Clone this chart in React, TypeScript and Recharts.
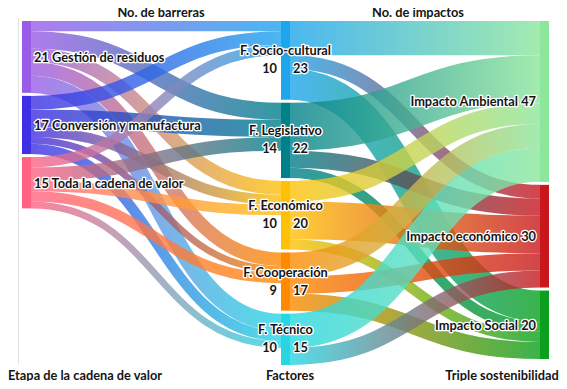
import React from 'react';
import { Sankey } from 'recharts';

// ---- data ----
const stages = ['Gestión de residuos', 'Conversión y manufactura', 'Toda la cadena de valor'];
const factors = ['F. Socio-cultural', 'F. Legislativo', 'F. Económico', 'F. Cooperación', 'F. Técnico'];
const impacts = ['Impacto Ambiental', 'Impacto económico', 'Impacto Social'];

// barriers: rows = stages, cols = factors
const barriersGestion = [3, 5, 4, 4, 5];
const barriersConversion = [4, 5, 3, 2, 3];
const barriersToda = [3, 4, 3, 3, 2];
const barrierRows = [barriersGestion, barriersConversion, barriersToda];

// impacts: rows = factors, cols = impacts
const impactsSocio = [10, 4, 9];
const impactsLegislativo = [14, 5, 3];
const impactsEconomico = [6, 11, 3];
const impactsCooperacion = [7, 5, 5];
const impactsTecnico = [10, 5, 0];
const impactRows = [impactsSocio, impactsLegislativo, impactsEconomico, impactsCooperacion, impactsTecnico];

// ---- styles ----
const stageColors = ['#9a5ce6', '#3f2ee3', '#ff6283'];
const factorColors = ['#1ea5ec', '#00808a', '#ffc107', '#ff8a00', '#26d6e2'];
const impactColors = ['#8ce69c', '#c8171d', '#0aa01e'];

const FONT = 'Lato, "Open Sans", sans-serif';
const FS = 12.8;

const nodeNames = [...stages, ...factors, ...impacts];
const nodeColors = [...stageColors, ...factorColors, ...impactColors];
const nS = stages.length;
const nF = factors.length;

const links: { source: number; target: number; value: number }[] = [];
barrierRows.forEach((row, i) =>
  row.forEach((v, j) => {
    if (v > 0) links.push({ source: i, target: nS + j, value: v });
  })
);
impactRows.forEach((row, j) =>
  row.forEach((v, k) => {
    if (v > 0) links.push({ source: nS + j, target: nS + nF + k, value: v });
  })
);

const factorIn = factors.map((_, j) => barrierRows.reduce((s, r) => s + r[j], 0));
const factorOut = impactRows.map((r) => r.reduce((s, v) => s + v, 0));

const data = { nodes: nodeNames.map((name) => ({ name })), links };

const textStyle: React.CSSProperties = {
  fontFamily: FONT,
  fontWeight: 700,
  fontSize: FS,
};

const Label = (p: { x: number; y: number; anchor: 'start' | 'middle' | 'end'; children: React.ReactNode }) => (
  <text
    x={p.x}
    y={p.y}
    textAnchor={p.anchor}
    dominantBaseline="central"
    fill="#151515"
    stroke="#ffffff"
    strokeWidth={2.6}
    strokeLinejoin="round"
    paintOrder="stroke"
    style={textStyle}
  >
    {p.children}
  </text>
);

const renderNode = (props: any) => {
  const { x, y, width, height, index, payload } = props;
  const idx = typeof index === 'number' ? index : nodeNames.indexOf(payload?.name);
  const color = nodeColors[idx];
  const cy = y + height / 2;
  let label: React.ReactNode = null;
  if (idx < nS) {
    label = (
      <Label x={x + width + 3} y={cy} anchor="start">
        {`${payload.value} ${nodeNames[idx]}`}
      </Label>
    );
  } else if (idx < nS + nF) {
    const j = idx - nS;
    label = (
      <g>
        <Label x={x + width / 2} y={cy - 10} anchor="middle">
          {nodeNames[idx]}
        </Label>
        <Label x={x - 4} y={cy + 8} anchor="end">
          {String(factorIn[j])}
        </Label>
        <Label x={x + width + 3} y={cy + 8} anchor="start">
          {String(factorOut[j])}
        </Label>
      </g>
    );
  } else {
    label = (
      <Label x={x - 4} y={cy} anchor="end">
        {`${nodeNames[idx]} ${payload.value}`}
      </Label>
    );
  }
  return (
    <g key={`node-${idx}`}>
      <rect x={x} y={y} width={width} height={height} fill={color} />
      {label}
    </g>
  );
};

const renderLink = (props: any) => {
  const { sourceX, targetX, sourceY, targetY, sourceControlX, targetControlX, linkWidth, index, payload } = props;
  let s = -1;
  let t = -1;
  if (typeof index === 'number' && links[index]) {
    s = links[index].source;
    t = links[index].target;
  } else if (payload) {
    s = nodeNames.indexOf(payload.source?.name);
    t = nodeNames.indexOf(payload.target?.name);
  }
  const id = `lg-${index}`;
  return (
    <g key={id}>
      <defs>
        <linearGradient id={id} gradientUnits="userSpaceOnUse" x1={sourceX} y1={0} x2={targetX} y2={0}>
          <stop offset="0%" stopColor={nodeColors[s]} />
          <stop offset="100%" stopColor={nodeColors[t]} />
        </linearGradient>
      </defs>
      <path
        d={`M${sourceX},${sourceY}C${sourceControlX},${sourceY} ${targetControlX},${targetY} ${targetX},${targetY}`}
        fill="none"
        stroke={`url(#${id})`}
        strokeWidth={linkWidth}
        strokeOpacity={0.8}
      />
    </g>
  );
};

const headStyle: React.CSSProperties = {
  position: 'absolute',
  fontFamily: FONT,
  fontWeight: 700,
  fontSize: FS,
  color: '#151515',
  whiteSpace: 'nowrap',
  transform: 'translate(-50%, -50%)',
  lineHeight: '14px',
};

export default function App() {
  return (
    <div style={{ position: 'relative', width: 551, height: 373 }}>
      <div style={{ position: 'absolute', left: 10, top: 10, width: 1, height: 347, background: '#e2e2e2' }} />
      <Sankey
        width={551}
        height={373}
        data={data}
        node={renderNode}
        link={renderLink}
        nodeWidth={9}
        nodePadding={3}
        iterations={0}
        margin={{ top: 13, right: 10, bottom: 16, left: 14 }}
      />
      <div style={{ ...headStyle, left: 153, top: 4 }}>No. de barreras</div>
      <div style={{ ...headStyle, left: 410, top: 4 }}>No. de impactos</div>
      <div style={{ ...headStyle, left: 0, top: 367, transform: 'translate(0, -50%)' }}>Etapa de la cadena de valor</div>
      <div style={{ ...headStyle, left: 282, top: 367 }}>Factores</div>
      <div style={{ ...headStyle, left: 494, top: 367 }}>Triple sostenibilidad</div>
    </div>
  );
}
